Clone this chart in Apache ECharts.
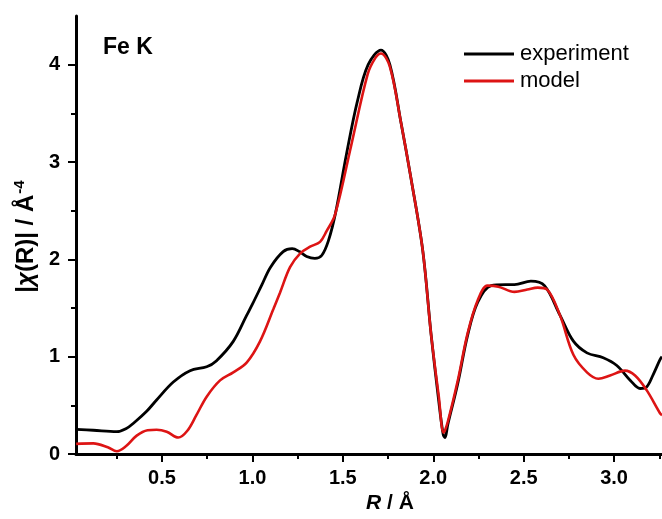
<!DOCTYPE html>
<html>
<head>
<meta charset="utf-8">
<script src="https://cdn.jsdelivr.net/npm/echarts@6/dist/echarts.min.js"></script>
<style>
  html, body { margin: 0; padding: 0; background: #fff; }
  #chart { width: 662px; height: 519px; }
</style>
</head>
<body>
<div id="chart"></div>
<script>
// R (Å) positions and |chi(R)| values
const expR = [0.025, 0.12, 0.25, 0.30, 0.35, 0.415, 0.47, 0.5625, 0.655, 0.747, 0.80, 0.894, 0.968, 1.0, 1.05, 1.10, 1.17, 1.22, 1.26, 1.30, 1.345, 1.383, 1.42, 1.46, 1.52, 1.58, 1.64, 1.711, 1.76, 1.822, 1.877, 1.942, 1.988, 2.03, 2.055, 2.065, 2.08, 2.135, 2.19, 2.246, 2.32, 2.40, 2.449, 2.54, 2.615, 2.70, 2.775, 2.85, 2.94, 3.015, 3.09, 3.144, 3.18, 3.217, 3.254, 3.265]
const expY = [0.255, 0.245, 0.23, 0.26, 0.33, 0.44, 0.556, 0.74, 0.857, 0.897, 0.957, 1.158, 1.425, 1.54, 1.73, 1.92, 2.08, 2.11, 2.08, 2.03, 2.01, 2.04, 2.19, 2.48, 3.08, 3.62, 4.0, 4.15, 4.0, 3.4, 2.83, 2.09, 1.23, 0.55, 0.2, 0.17, 0.3, 0.72, 1.22, 1.56, 1.73, 1.74, 1.74, 1.776, 1.73, 1.43, 1.16, 1.04, 0.99, 0.91, 0.757, 0.674, 0.69, 0.82, 0.97, 1.0]

const modR = [0.025, 0.12, 0.2, 0.25, 0.30, 0.36, 0.42, 0.47, 0.526, 0.59, 0.64, 0.69, 0.747, 0.821, 0.894, 0.968, 1.042, 1.116, 1.153, 1.208, 1.263, 1.319, 1.374, 1.41, 1.457, 1.545, 1.637, 1.68, 1.711, 1.76, 1.822, 1.877, 1.942, 1.988, 2.03, 2.058, 2.08, 2.135, 2.19, 2.246, 2.30, 2.36, 2.449, 2.52, 2.578, 2.63, 2.70, 2.775, 2.85, 2.913, 2.978, 3.06, 3.116, 3.18, 3.254, 3.265]
const modY = [0.105, 0.11, 0.07, 0.03, 0.08, 0.19, 0.245, 0.25, 0.23, 0.17, 0.24, 0.40, 0.59, 0.757, 0.84, 0.94, 1.158, 1.49, 1.66, 1.92, 2.06, 2.13, 2.18, 2.29, 2.46, 3.16, 3.9, 4.07, 4.115, 3.98, 3.4, 2.83, 2.09, 1.23, 0.6, 0.22, 0.33, 0.75, 1.24, 1.58, 1.73, 1.72, 1.666, 1.69, 1.71, 1.69, 1.43, 1.02, 0.84, 0.774, 0.807, 0.857, 0.807, 0.657, 0.42, 0.40]

const xMajor = [0.5, 1.0, 1.5, 2.0, 2.5, 3.0]
const xMinor = [0.25, 0.75, 1.25, 1.75, 2.25, 2.75, 3.25]
const yMajor = [0, 1, 2, 3, 4]
const yMinor = [0.5, 1.5, 2.5, 3.5]

const FONT = 'Liberation Sans, Arial, sans-serif'

function pairs(xs, ys) {
  return xs.map((x, i) => [x, ys[i]])
}

const chart = echarts.init(document.getElementById('chart'))

const xBase = {
  type: 'value',
  min: 0.0243,
  max: 3.265,
  splitLine: { show: false }
}
const yBase = {
  type: 'value',
  min: 0,
  max: 4.5,
  splitLine: { show: false }
}

chart.setOption({
  animation: false,
  backgroundColor: '#fff',
  title: {
    text: 'Fe K',
    left: 103,
    top: 36,
    padding: 0,
    textStyle: { fontFamily: FONT, fontSize: 23, fontWeight: 'bold', color: '#000' }
  },
  legend: {
    data: ['experiment', 'model'],
    orient: 'vertical',
    left: 464,
    top: 43,
    padding: 0,
    icon: 'rect',
    itemWidth: 50,
    itemHeight: 3,
    itemGap: 5,
    textStyle: { fontFamily: FONT, fontSize: 22, color: '#000', padding: [0, 0, 0, 1] }
  },
  grid: { left: 76, right: 0, top: 16, bottom: 54 },
  xAxis: [
    Object.assign({}, xBase, {
      name: '{i|R}{b| / Å}',
      nameLocation: 'middle',
      nameGap: 27,
      nameTextStyle: {
        padding: [0, 0, 0, 42],
        rich: {
          i: { fontFamily: FONT, fontSize: 21, fontWeight: 'bold', fontStyle: 'italic', color: '#000' },
          b: { fontFamily: FONT, fontSize: 21, fontWeight: 'bold', color: '#000' }
        }
      },
      axisLine: { lineStyle: { color: '#000', width: 3 } },
      axisTick: { inside: false, length: 8, customValues: xMajor, lineStyle: { color: '#000', width: 2 } },
      axisLabel: {
        customValues: xMajor,
        margin: 14,
        formatter: v => v.toFixed(1),
        fontFamily: FONT, fontSize: 20, fontWeight: 'bold', color: '#000'
      }
    }),
    Object.assign({}, xBase, {
      position: 'bottom',
      axisLine: { show: false },
      axisTick: { inside: false, length: 5, customValues: xMinor, lineStyle: { color: '#000', width: 2 } },
      axisLabel: { show: false }
    })
  ],
  yAxis: [
    Object.assign({}, yBase, {
      name: '{n||}{i|χ}{n|(R)| / Å}{s|-4}',
      nameLocation: 'middle',
      nameRotate: 90,
      nameGap: 32,
      nameTextStyle: {
        padding: [0, 3, 0, 0],
        rich: {
          n: { fontFamily: FONT, fontSize: 24, fontWeight: 'bold', color: '#000' },
          i: { fontFamily: FONT, fontSize: 24, fontWeight: 'bold', fontStyle: 'italic', color: '#000' },
          s: { fontFamily: FONT, fontSize: 15, fontWeight: 'bold', color: '#000', verticalAlign: 'top', padding: [0, 0, 12, 1] }
        }
      },
      axisLine: { lineStyle: { color: '#000', width: 3 } },
      axisTick: { inside: false, length: 8, customValues: yMajor, lineStyle: { color: '#000', width: 2 } },
      axisLabel: {
        customValues: yMajor,
        margin: 16,
        fontFamily: FONT, fontSize: 20, fontWeight: 'bold', color: '#000'
      }
    }),
    Object.assign({}, yBase, {
      position: 'left',
      axisLine: { show: false },
      axisTick: { inside: false, length: 5, customValues: yMinor, lineStyle: { color: '#000', width: 2 } },
      axisLabel: { show: false }
    })
  ],
  series: [
    {
      name: 'experiment',
      type: 'line',
      smooth: 0.35,
      symbol: 'none',
      color: '#000',
      lineStyle: { color: '#000', width: 2.8 },
      data: pairs(expR, expY)
    },
    {
      name: 'model',
      type: 'line',
      smooth: 0.35,
      symbol: 'none',
      color: '#dd1414',
      lineStyle: { color: '#dd1414', width: 2.6 },
      data: pairs(modR, modY)
    }
  ]
})
</script>
</body>
</html>
